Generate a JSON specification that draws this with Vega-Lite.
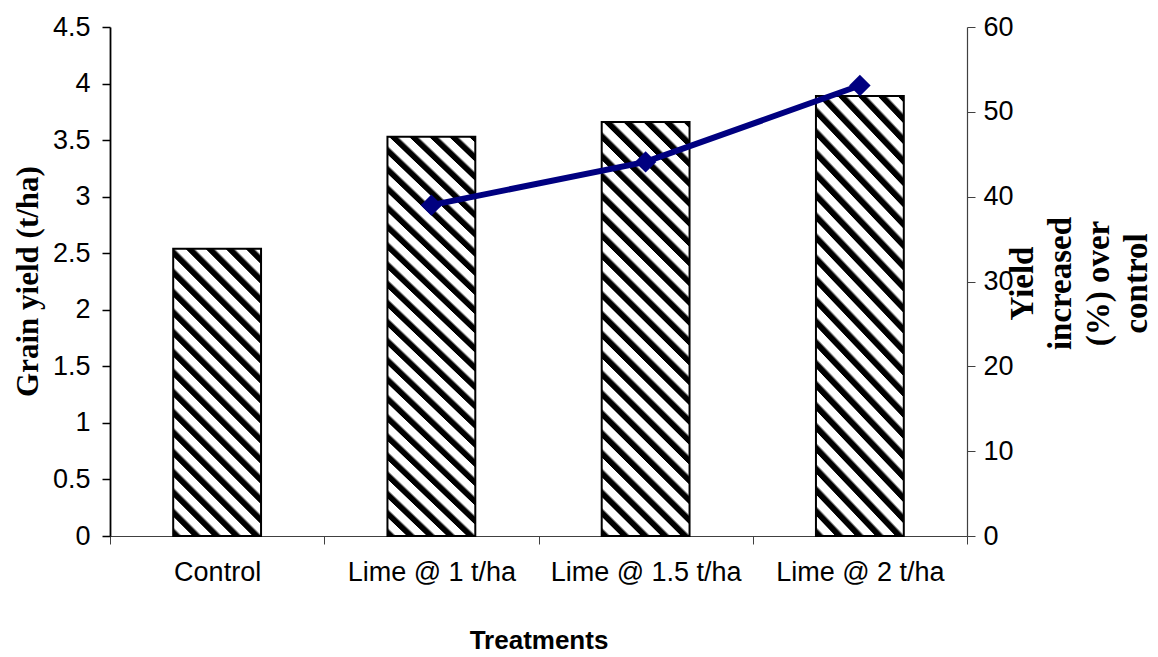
{
  "$schema": "https://vega.github.io/schema/vega-lite/v6.json",
  "autosize": "none",
  "width": 857,
  "height": 509,
  "padding": {"left": 110, "top": 27, "right": 191, "bottom": 121},
  "background": "white",
  "config": {
    "view": {"stroke": null},
    "axis": {
      "labelFont": "Liberation Sans",
      "labelFontSize": 27,
      "labelColor": "black",
      "titleColor": "black",
      "labelLimit": 0,
      "labelOverlap": false,
      "grid": false
    }
  },
  "data": {
    "values": [
      {"Treatment": "Control", "Yield": 2.54, "Increase": null},
      {"Treatment": "Lime @ 1 t/ha", "Yield": 3.53, "Increase": 39.0},
      {"Treatment": "Lime @ 1.5 t/ha", "Yield": 3.66, "Increase": 44.1},
      {"Treatment": "Lime @ 2 t/ha", "Yield": 3.89, "Increase": 53.1}
    ]
  },
  "encoding": {
    "x": {
      "field": "Treatment",
      "type": "nominal",
      "sort": null,
      "scale": {"paddingInner": 0, "paddingOuter": 0},
      "axis": {
        "title": "Treatments",
        "titleFont": "Liberation Sans",
        "titleFontSize": 26,
        "titleFontWeight": "bold",
        "titlePadding": 42,
        "labelAngle": 0,
        "labelPadding": 15,
        "tickBand": "extent",
        "tickSize": 8,
        "tickColor": "#404040",
        "domainColor": "#404040",
        "domainWidth": 1.2
      }
    }
  },
  "layer": [
    {
      "encoding": {
        "y": {
          "field": "Yield",
          "type": "quantitative",
          "scale": {"domain": [0, 4.5], "nice": false, "zero": true},
          "axis": {
            "title": "Grain yield (t/ha)",
            "titleFont": "Liberation Serif",
            "titleFontSize": 31,
            "titleFontWeight": "bold",
            "titleAngle": 270,
            "titleAlign": "center",
            "titleBaseline": "middle",
            "titleX": -82,
            "titleY": 254,
            "values": [0, 0.5, 1, 1.5, 2, 2.5, 3, 3.5, 4, 4.5],
            "format": "~g",
            "tickSize": 8,
            "tickColor": "black",
            "tickWidth": 1.5,
            "domainColor": "black",
            "domainWidth": 1.8,
            "labelPadding": 12
          }
        }
      },
      "layer": [
        {
          "transform": [{"filter": "datum.Treatment === 'Control'"}],
          "mark": {
            "type": "bar",
            "width": {"band": 0.41},
            "stroke": "black",
            "strokeWidth": 2,
            "fill": {
              "gradient": "linear",
              "x1": 0, "y1": 1, "x2": 0.5253, "y2": -0.719,
              "stops": [
                {"offset": 0, "color": "black"}, {"offset": 0.0120, "color": "black"}, {"offset": 0.0175, "color": "white"}, {"offset": 0.0352, "color": "white"},
                {"offset": 0.0370, "color": "black"}, {"offset": 0.0490, "color": "black"}, {"offset": 0.0545, "color": "white"}, {"offset": 0.0722, "color": "white"},
                {"offset": 0.0741, "color": "black"}, {"offset": 0.0861, "color": "black"}, {"offset": 0.0916, "color": "white"}, {"offset": 0.1093, "color": "white"},
                {"offset": 0.1111, "color": "black"}, {"offset": 0.1231, "color": "black"}, {"offset": 0.1286, "color": "white"}, {"offset": 0.1463, "color": "white"},
                {"offset": 0.1481, "color": "black"}, {"offset": 0.1601, "color": "black"}, {"offset": 0.1656, "color": "white"}, {"offset": 0.1833, "color": "white"},
                {"offset": 0.1852, "color": "black"}, {"offset": 0.1972, "color": "black"}, {"offset": 0.2027, "color": "white"}, {"offset": 0.2204, "color": "white"},
                {"offset": 0.2222, "color": "black"}, {"offset": 0.2342, "color": "black"}, {"offset": 0.2397, "color": "white"}, {"offset": 0.2574, "color": "white"},
                {"offset": 0.2593, "color": "black"}, {"offset": 0.2713, "color": "black"}, {"offset": 0.2768, "color": "white"}, {"offset": 0.2944, "color": "white"},
                {"offset": 0.2963, "color": "black"}, {"offset": 0.3083, "color": "black"}, {"offset": 0.3138, "color": "white"}, {"offset": 0.3315, "color": "white"},
                {"offset": 0.3333, "color": "black"}, {"offset": 0.3453, "color": "black"}, {"offset": 0.3508, "color": "white"}, {"offset": 0.3685, "color": "white"},
                {"offset": 0.3704, "color": "black"}, {"offset": 0.3824, "color": "black"}, {"offset": 0.3879, "color": "white"}, {"offset": 0.4056, "color": "white"},
                {"offset": 0.4074, "color": "black"}, {"offset": 0.4194, "color": "black"}, {"offset": 0.4249, "color": "white"}, {"offset": 0.4426, "color": "white"},
                {"offset": 0.4444, "color": "black"}, {"offset": 0.4564, "color": "black"}, {"offset": 0.4619, "color": "white"}, {"offset": 0.4796, "color": "white"},
                {"offset": 0.4815, "color": "black"}, {"offset": 0.4935, "color": "black"}, {"offset": 0.4990, "color": "white"}, {"offset": 0.5167, "color": "white"},
                {"offset": 0.5185, "color": "black"}, {"offset": 0.5305, "color": "black"}, {"offset": 0.5360, "color": "white"}, {"offset": 0.5537, "color": "white"},
                {"offset": 0.5556, "color": "black"}, {"offset": 0.5676, "color": "black"}, {"offset": 0.5731, "color": "white"}, {"offset": 0.5907, "color": "white"},
                {"offset": 0.5926, "color": "black"}, {"offset": 0.6046, "color": "black"}, {"offset": 0.6101, "color": "white"}, {"offset": 0.6278, "color": "white"},
                {"offset": 0.6296, "color": "black"}, {"offset": 0.6416, "color": "black"}, {"offset": 0.6471, "color": "white"}, {"offset": 0.6648, "color": "white"},
                {"offset": 0.6667, "color": "black"}, {"offset": 0.6787, "color": "black"}, {"offset": 0.6842, "color": "white"}, {"offset": 0.7019, "color": "white"},
                {"offset": 0.7037, "color": "black"}, {"offset": 1, "color": "black"}
              ]
            }
          },
          "encoding": {"y": {"field": "Yield", "type": "quantitative"}}
        },
        {
          "transform": [{"filter": "datum.Treatment !== 'Control'"}],
          "mark": {
            "type": "bar",
            "width": {"band": 0.41},
            "stroke": "black",
            "strokeWidth": 2,
            "fill": {
              "gradient": "linear",
              "x1": 0, "y1": 1, "x2": 0.2599, "y2": -0.2373,
              "stops": [
                {"offset": 0, "color": "black"}, {"offset": 0.0120, "color": "black"}, {"offset": 0.0175, "color": "white"}, {"offset": 0.0352, "color": "white"},
                {"offset": 0.0370, "color": "black"}, {"offset": 0.0490, "color": "black"}, {"offset": 0.0545, "color": "white"}, {"offset": 0.0722, "color": "white"},
                {"offset": 0.0741, "color": "black"}, {"offset": 0.0861, "color": "black"}, {"offset": 0.0916, "color": "white"}, {"offset": 0.1093, "color": "white"},
                {"offset": 0.1111, "color": "black"}, {"offset": 0.1231, "color": "black"}, {"offset": 0.1286, "color": "white"}, {"offset": 0.1463, "color": "white"},
                {"offset": 0.1481, "color": "black"}, {"offset": 0.1601, "color": "black"}, {"offset": 0.1656, "color": "white"}, {"offset": 0.1833, "color": "white"},
                {"offset": 0.1852, "color": "black"}, {"offset": 0.1972, "color": "black"}, {"offset": 0.2027, "color": "white"}, {"offset": 0.2204, "color": "white"},
                {"offset": 0.2222, "color": "black"}, {"offset": 0.2342, "color": "black"}, {"offset": 0.2397, "color": "white"}, {"offset": 0.2574, "color": "white"},
                {"offset": 0.2593, "color": "black"}, {"offset": 0.2713, "color": "black"}, {"offset": 0.2768, "color": "white"}, {"offset": 0.2944, "color": "white"},
                {"offset": 0.2963, "color": "black"}, {"offset": 0.3083, "color": "black"}, {"offset": 0.3138, "color": "white"}, {"offset": 0.3315, "color": "white"},
                {"offset": 0.3333, "color": "black"}, {"offset": 0.3453, "color": "black"}, {"offset": 0.3508, "color": "white"}, {"offset": 0.3685, "color": "white"},
                {"offset": 0.3704, "color": "black"}, {"offset": 0.3824, "color": "black"}, {"offset": 0.3879, "color": "white"}, {"offset": 0.4056, "color": "white"},
                {"offset": 0.4074, "color": "black"}, {"offset": 0.4194, "color": "black"}, {"offset": 0.4249, "color": "white"}, {"offset": 0.4426, "color": "white"},
                {"offset": 0.4444, "color": "black"}, {"offset": 0.4564, "color": "black"}, {"offset": 0.4619, "color": "white"}, {"offset": 0.4796, "color": "white"},
                {"offset": 0.4815, "color": "black"}, {"offset": 0.4935, "color": "black"}, {"offset": 0.4990, "color": "white"}, {"offset": 0.5167, "color": "white"},
                {"offset": 0.5185, "color": "black"}, {"offset": 0.5305, "color": "black"}, {"offset": 0.5360, "color": "white"}, {"offset": 0.5537, "color": "white"},
                {"offset": 0.5556, "color": "black"}, {"offset": 0.5676, "color": "black"}, {"offset": 0.5731, "color": "white"}, {"offset": 0.5907, "color": "white"},
                {"offset": 0.5926, "color": "black"}, {"offset": 0.6046, "color": "black"}, {"offset": 0.6101, "color": "white"}, {"offset": 0.6278, "color": "white"},
                {"offset": 0.6296, "color": "black"}, {"offset": 0.6416, "color": "black"}, {"offset": 0.6471, "color": "white"}, {"offset": 0.6648, "color": "white"},
                {"offset": 0.6667, "color": "black"}, {"offset": 0.6787, "color": "black"}, {"offset": 0.6842, "color": "white"}, {"offset": 0.7019, "color": "white"},
                {"offset": 0.7037, "color": "black"}, {"offset": 0.7157, "color": "black"}, {"offset": 0.7212, "color": "white"}, {"offset": 0.7389, "color": "white"},
                {"offset": 0.7407, "color": "black"}, {"offset": 0.7527, "color": "black"}, {"offset": 0.7582, "color": "white"}, {"offset": 0.7759, "color": "white"},
                {"offset": 0.7778, "color": "black"}, {"offset": 0.7898, "color": "black"}, {"offset": 0.7953, "color": "white"}, {"offset": 0.8130, "color": "white"},
                {"offset": 0.8148, "color": "black"}, {"offset": 0.8268, "color": "black"}, {"offset": 0.8323, "color": "white"}, {"offset": 0.8500, "color": "white"},
                {"offset": 0.8519, "color": "black"}, {"offset": 0.8639, "color": "black"}, {"offset": 0.8694, "color": "white"}, {"offset": 0.8870, "color": "white"},
                {"offset": 0.8889, "color": "black"}, {"offset": 0.9009, "color": "black"}, {"offset": 0.9064, "color": "white"}, {"offset": 0.9241, "color": "white"},
                {"offset": 0.9259, "color": "black"}, {"offset": 0.9379, "color": "black"}, {"offset": 0.9434, "color": "white"}, {"offset": 0.9611, "color": "white"},
                {"offset": 0.9630, "color": "black"}, {"offset": 0.9750, "color": "black"}, {"offset": 0.9805, "color": "white"}, {"offset": 0.9981, "color": "white"},
                {"offset": 1, "color": "black"}
              ]
            }
          },
          "encoding": {"y": {"field": "Yield", "type": "quantitative"}}
        }
      ]
    },
    {
      "transform": [{"filter": "datum.Increase != null"}],
      "encoding": {
        "y": {
          "field": "Increase",
          "type": "quantitative",
          "scale": {"domain": [0, 60], "nice": false, "zero": true},
          "axis": {
            "orient": "right",
            "title": ["Yield", "increased", "(%) over", "control"],
            "titleFont": "Liberation Serif",
            "titleFontSize": 33,
            "titleFontWeight": "bold",
            "titleAngle": 270,
            "titleAlign": "center",
            "titleBaseline": "alphabetic",
            "titleLineHeight": 38,
            "titleX": 65,
            "titleY": 256,
            "values": [0, 10, 20, 30, 40, 50, 60],
            "tickSize": 8,
            "tickColor": "#404040",
            "domainColor": "#404040",
            "domainWidth": 1.2,
            "labelPadding": 8
          }
        }
      },
      "layer": [
        {
          "mark": {"type": "line", "color": "#000080", "strokeWidth": 6}
        },
        {
          "mark": {"type": "point", "shape": "diamond", "filled": true, "color": "#000080", "size": 460, "opacity": 1}
        }
      ]
    }
  ],
  "resolve": {"scale": {"y": "independent"}}
}
